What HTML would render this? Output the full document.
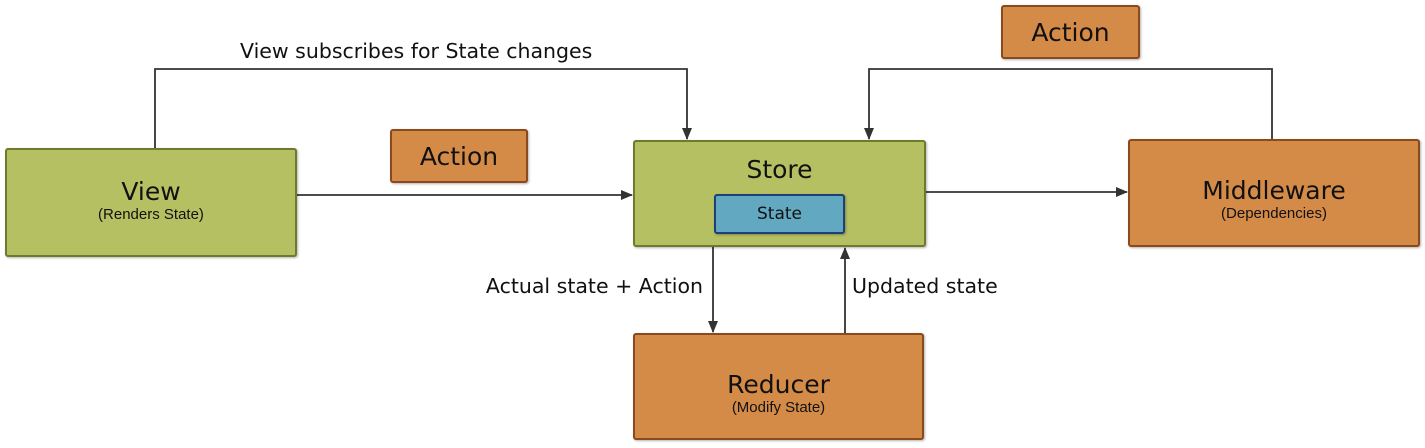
<!DOCTYPE html>
<html><head><meta charset="utf-8"><style>
body{margin:0;width:1425px;height:448px;background:#fff;position:relative;overflow:hidden;font-family:"DejaVu Sans","Liberation Sans",sans-serif;color:#111}
.b{position:absolute;box-sizing:border-box;border-radius:3px;text-align:center;box-shadow:1px 1px 2px rgba(0,0,0,.3)}
.g{background:#b5c063;border:2px solid #6f7a2c}
.o{background:#d58b48;border:2px solid #8a4a1c}
.t{font-size:25px;line-height:28px}
.s{font-size:15px;line-height:18px;font-family:"Liberation Sans",sans-serif}
.lbl{position:absolute;font-size:20.5px;white-space:nowrap}
</style></head><body>
<svg width="1425" height="448" style="position:absolute;left:0;top:0">
<defs><marker id="a" markerWidth="12" markerHeight="12" refX="11" refY="6" orient="auto" markerUnits="userSpaceOnUse"><path d="M0,1 L12,6 L0,11 z" fill="#333"/></marker></defs>
<g stroke="#333" stroke-width="1.8" fill="none">
<path d="M155,148 V69 H687 V139" marker-end="url(#a)"/>
<path d="M1272,139 V69 H869 V139" marker-end="url(#a)"/>
<path d="M297,195 H632" marker-end="url(#a)"/>
<path d="M926,192 H1127" marker-end="url(#a)"/>
<path d="M713,247 V332" marker-end="url(#a)"/>
<path d="M845,333 V248" marker-end="url(#a)"/>
</g></svg>
<div class="lbl" style="left:240px;top:39px">View subscribes for State changes</div>
<div class="lbl" style="right:722px;top:274px">Actual state + Action</div>
<div class="lbl" style="left:852px;top:274px">Updated state</div>
<div class="b g" style="left:5px;top:148px;width:292px;height:109px;padding-top:28px"><div class="t">View</div><div class="s">(Renders State)</div></div>
<div class="b o" style="left:390px;top:129px;width:138px;height:54px;padding-top:12px"><div class="t">Action</div></div>
<div class="b o" style="left:1001px;top:5px;width:139px;height:54px;padding-top:12px"><div class="t">Action</div></div>
<div class="b g" style="left:633px;top:140px;width:293px;height:107px;padding-top:14px"><div class="t">Store</div></div>
<div class="b" style="left:714px;top:194px;width:131px;height:40px;background:#62a8c0;border:2px solid #1f3f7a;padding-top:8px"><div style="font-size:17px">State</div></div>
<div class="b o" style="left:1128px;top:139px;width:292px;height:108px;padding-top:36px"><div class="t">Middleware</div><div class="s">(Dependencies)</div></div>
<div class="b o" style="left:633px;top:333px;width:291px;height:107px;padding-top:36px"><div class="t">Reducer</div><div class="s">(Modify State)</div></div>
</body></html>
